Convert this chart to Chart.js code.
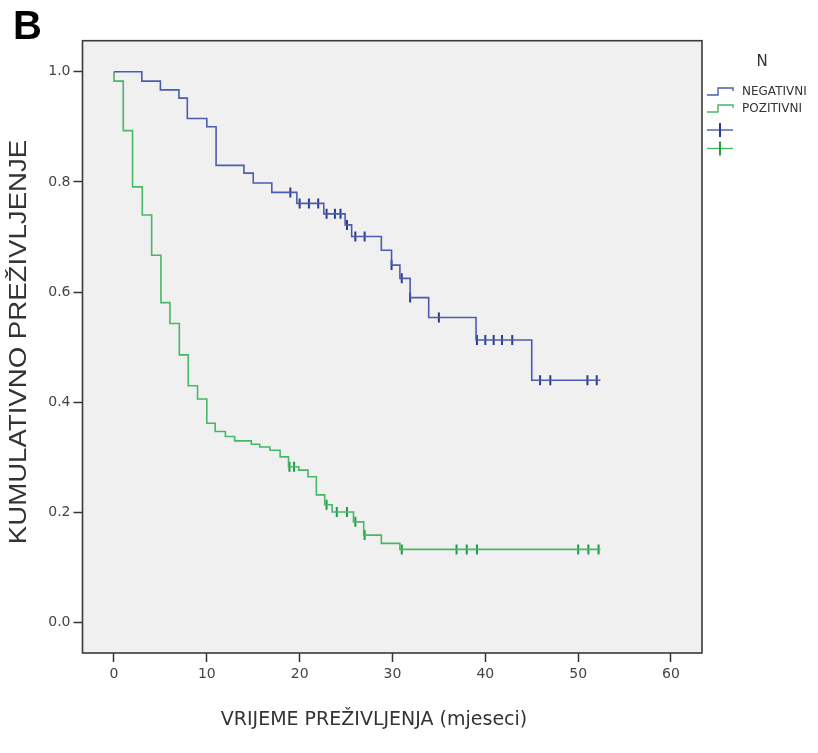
<!DOCTYPE html>
<html><head><meta charset="utf-8">
<script src="https://cdn.jsdelivr.net/npm/chart.js@4.4.1/dist/chart.umd.min.js"></script>
<style>html,body{margin:0;padding:0;background:#fff;}#wrap{width:818px;height:753px;}</style>
</head><body><div id="wrap"><canvas id="c" width="818" height="753"></canvas></div>
<script>
// ---- texts ----
const panelLabel = 'B';
const xTitle = 'VRIJEME PREŽIVLJENJA (mjeseci)';
const yTitle = 'KUMULATIVNO PREŽIVLJENJE';
const legendTitle = 'N';
const groupNames = ['NEGATIVNI', 'POZITIVNI'];
const xTicks = [0, 10, 20, 30, 40, 50, 60];
const yTicks = [0.0, 0.2, 0.4, 0.6, 0.8, 1.0];

// ---- NEGATIVNI (blue) ----
const negEventTimes = [0, 3.0, 5.0, 7.0, 7.9, 10.0, 11.0, 14.0, 15.0, 17.0, 19.7, 22.6, 24.9, 25.6, 28.8, 29.9, 30.8, 31.9, 33.9, 39.0, 45.0];
const negSurvival   = [1.0, 0.983, 0.967, 0.952, 0.915, 0.900, 0.830, 0.816, 0.798, 0.781, 0.761, 0.742, 0.722, 0.701, 0.676, 0.649, 0.625, 0.590, 0.554, 0.513, 0.440];
const negCensorTimes = [19.0, 20.0, 21.0, 22.0, 22.9, 23.8, 24.4, 25.1, 26.0, 27.0, 29.9, 31.0, 31.9, 35.0, 39.1, 40.0, 40.9, 41.8, 42.9, 45.9, 47.0, 51.0, 52.0];
const negLastTime = 52.4;

// ---- POZITIVNI (green) ----
const posEventTimes = [0, 0, 1.0, 2.0, 3.05, 4.06, 5.06, 6.03, 7.04, 8.0, 9.0, 10.0, 10.9, 12.0, 13.0, 14.8, 15.7, 16.8, 17.9, 18.8, 19.9, 20.9, 21.8, 22.7, 23.5, 25.8, 26.9, 28.8, 30.8];
const posSurvival   = [1.0, 0.983, 0.893, 0.791, 0.740, 0.667, 0.581, 0.543, 0.486, 0.430, 0.406, 0.362, 0.347, 0.338, 0.330, 0.324, 0.319, 0.313, 0.301, 0.283, 0.277, 0.265, 0.232, 0.214, 0.201, 0.183, 0.159, 0.144, 0.133];
const posCensorTimes = [18.9, 19.4, 22.9, 24.0, 25.1, 26.0, 27.0, 31.0, 36.9, 38.0, 39.1, 50.0, 51.1, 52.2];
const posLastTime = 52.4;

// ---- styles ----
const negLine = '#4b5cb0', negMark = '#2a3a8e';
const posLine = '#46b866', posMark = '#1f9a45';

function stepPoints(times, surv, last) {
  const pts = times.map((t, i) => ({x: t, y: surv[i]}));
  pts.push({x: last, y: surv[surv.length - 1]});
  return pts;
}
function survAt(times, surv, t) {
  let v = surv[0];
  for (let i = 0; i < times.length; i++) if (times[i] <= t) v = surv[i];
  return v;
}
function censorPoints(times, surv, cens) {
  return cens.map(t => ({x: t, y: survAt(times, surv, t)}));
}

const bgPlugin = {
  id: 'bg',
  beforeDraw(chart) {
    const {ctx, chartArea: a} = chart;
    ctx.save();
    ctx.fillStyle = '#fff';
    ctx.fillRect(0, 0, chart.width, chart.height);
    ctx.fillStyle = '#f0f0f0';
    ctx.fillRect(a.left, a.top, a.right - a.left, a.bottom - a.top);
    ctx.restore();
  },
  afterDraw(chart) {
    const {ctx, chartArea: a} = chart;
    ctx.save();
    // frame
    ctx.strokeStyle = '#3a3a3a';
    ctx.lineWidth = 1.6;
    ctx.strokeRect(a.left, a.top, a.right - a.left, a.bottom - a.top);
    // panel label
    ctx.fillStyle = '#000';
    ctx.font = 'bold 40px "Liberation Sans", Arial, sans-serif';
    ctx.textAlign = 'left';
    ctx.textBaseline = 'alphabetic';
    ctx.fillText(panelLabel, 13, 38.5);
    // x title
    ctx.fillStyle = '#333';
    ctx.font = '19px "DejaVu Sans", sans-serif';
    ctx.textAlign = 'center';
    ctx.textBaseline = 'middle';
    ctx.fillText(xTitle, 374, 720);
    // y title
    ctx.save();
    ctx.translate(19, 342);
    ctx.rotate(-Math.PI / 2);
    ctx.scale(1.15, 1);
    ctx.font = '24px "Liberation Sans", Arial, sans-serif';
    ctx.fillText(yTitle, 0, 0);
    ctx.restore();
    // legend
    ctx.font = '15px "DejaVu Sans", sans-serif';
    ctx.fillStyle = '#333';
    ctx.fillText(legendTitle, 762, 62);
    const rows = [91.5, 108.5];
    const lc = [negLine, posLine];
    ctx.lineWidth = 1.4;
    rows.forEach((y, i) => {
      ctx.strokeStyle = lc[i];
      ctx.beginPath();
      ctx.moveTo(707, y + 3.5);
      ctx.lineTo(718, y + 3.5);
      ctx.lineTo(718, y - 3.5);
      ctx.lineTo(733, y - 3.5);
      ctx.lineTo(733, y - 0.5);
      ctx.stroke();
      ctx.fillStyle = '#333';
      ctx.font = '12px "DejaVu Sans", sans-serif';
      ctx.textAlign = 'left';
      ctx.fillText(groupNames[i], 742, y);
    });
    const mrows = [130, 148.5];
    const mc = [[negLine, negMark], [posLine, posMark]];
    mrows.forEach((y, i) => {
      ctx.strokeStyle = mc[i][0];
      ctx.lineWidth = 1.4;
      ctx.beginPath(); ctx.moveTo(707, y); ctx.lineTo(733, y); ctx.stroke();
      ctx.strokeStyle = mc[i][1];
      ctx.lineWidth = 2;
      ctx.beginPath(); ctx.moveTo(720, y - 7); ctx.lineTo(720, y + 7); ctx.stroke();
    });
    ctx.restore();
  }
};

const tickFont = {family: '"DejaVu Sans", sans-serif', size: 14};

new Chart(document.getElementById('c'), {
  type: 'line',
  data: {
    datasets: [
      {label: groupNames[0], data: stepPoints(negEventTimes, negSurvival, negLastTime), stepped: 'before', borderColor: negLine, borderWidth: 1.6, pointRadius: 0, fill: false},
      {label: groupNames[1], data: stepPoints(posEventTimes, posSurvival, posLastTime), stepped: 'before', borderColor: posLine, borderWidth: 1.6, pointRadius: 0, fill: false},
      {label: groupNames[0] + ' censored', data: censorPoints(negEventTimes, negSurvival, negCensorTimes), showLine: false, pointStyle: 'line', rotation: 90, pointRadius: 5, pointBorderWidth: 2, borderColor: negMark, pointBorderColor: negMark},
      {label: groupNames[1] + ' censored', data: censorPoints(posEventTimes, posSurvival, posCensorTimes), showLine: false, pointStyle: 'line', rotation: 90, pointRadius: 5, pointBorderWidth: 2, borderColor: posMark, pointBorderColor: posMark}
    ]
  },
  options: {
    responsive: false,
    animation: false,
    devicePixelRatio: 1,
    layout: {padding: {left: 0, top: 40.7, right: 116, bottom: 0}},
    plugins: {legend: {display: false}, tooltip: {enabled: false}},
    scales: {
      x: {
        type: 'linear', min: -3.39, max: 63.34,
        afterBuildTicks: s => { s.ticks = xTicks.map(v => ({value: v})); },
        afterFit: s => { s.height = 100; },
        grid: {drawOnChartArea: false, tickLength: 9, tickColor: '#333', tickWidth: 1.5},
        border: {display: false},
        ticks: {font: tickFont, color: '#444', padding: 4, maxRotation: 0, callback: v => String(v)}
      },
      y: {
        type: 'linear', min: -0.055, max: 1.0563,
        afterBuildTicks: s => { s.ticks = yTicks.map(v => ({value: v})); },
        afterFit: s => { s.width = 82.5; },
        grid: {drawOnChartArea: false, tickLength: 9, tickColor: '#333', tickWidth: 1.5},
        border: {display: false},
        ticks: {font: tickFont, color: '#444', padding: 3, callback: v => Number(v).toFixed(1)}
      }
    }
  },
  plugins: [bgPlugin]
});
</script></body></html>
